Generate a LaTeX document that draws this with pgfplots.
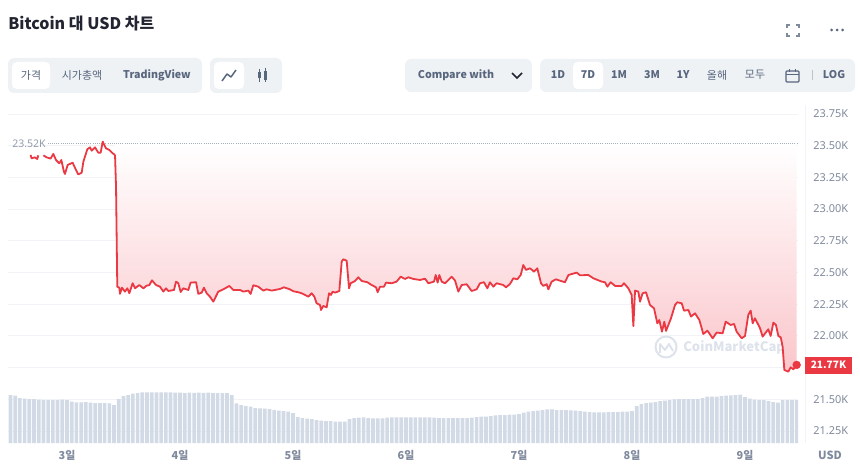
\documentclass[border=0pt]{standalone}
\usepackage{pgfplots}
\usepackage{pgfplotstable}
\usepackage{fontspec}
\pgfplotsset{compat=1.18}
\setmainfont{Noto Sans}
\newfontfamily\kr{Noto Sans CJK KR}
\definecolor{bar}{RGB}{239,242,245}
\definecolor{txt}{RGB}{88,102,126}
\definecolor{ticktxt}{RGB}{128,138,157}
\definecolor{gridc}{RGB}{241,243,247}
\definecolor{redl}{RGB}{234,57,67}
\definecolor{volc}{RGB}{210,218,230}
\definecolor{fillb}{RGB}{250,198,203}
\definecolor{wm}{RGB}{221,226,235}
\definecolor{titlec}{RGB}{34,37,49}
\pgfplotstableread{
d p
2.678 23427
2.687 23400
2.717 23408
2.737 23395
2.746 23424
}\pricefirst
\pgfplotstableread{
d p
2.791 23424
2.820 23408
2.855 23398
2.879 23435
2.903 23387
2.932 23361
2.950 23387
2.973 23295
2.982 23277
3.006 23348
3.050 23366
3.080 23308
3.100 23274
3.130 23287
3.145 23374
3.180 23472
3.204 23487
3.218 23461
3.248 23487
3.277 23445
3.298 23445
3.316 23532
3.345 23479
3.375 23466
3.404 23440
3.425 23427
}\pricesecond
\pgfplotstableread{
d p
3.425 23427
3.434 23177
3.445 22388
3.463 22380
3.469 22331
3.487 22380
3.513 22349
3.534 22375
3.552 22336
3.581 22415
3.602 22375
3.640 22401
3.676 22375
3.705 22396
3.729 22401
3.752 22438
3.788 22401
3.823 22388
3.853 22349
3.876 22375
3.897 22354
3.947 22362
3.965 22428
3.985 22415
4.006 22346
4.029 22375
4.074 22362
4.094 22420
4.142 22423
4.162 22331
4.192 22341
4.212 22380
4.236 22336
4.265 22309
4.295 22270
4.339 22349
4.383 22367
4.437 22394
4.472 22362
4.531 22362
4.560 22349
4.605 22357
4.625 22331
4.649 22399
4.693 22388
4.737 22357
4.767 22367
4.811 22357
4.885 22370
4.920 22383
4.973 22367
5.003 22352
5.047 22344
5.077 22336
5.106 22323
5.136 22309
5.165 22336
5.189 22309
5.209 22257
5.239 22244
5.248 22204
5.268 22236
5.298 22225
5.319 22336
5.336 22323
5.351 22349
5.372 22341
5.410 22354
5.431 22586
5.445 22604
5.475 22593
5.496 22375
5.510 22415
5.549 22433
5.578 22462
5.608 22433
5.658 22423
5.696 22401
5.735 22383
5.749 22344
5.770 22388
5.805 22388
5.823 22420
5.873 22415
5.917 22428
5.953 22467
5.991 22449
6.021 22462
6.065 22449
6.124 22441
6.168 22451
6.198 22415
6.248 22428
6.263 22480
6.280 22420
6.295 22480
6.316 22428
6.345 22415
6.375 22441
6.404 22467
6.434 22436
6.463 22349
6.493 22401
6.537 22407
6.581 22354
6.625 22367
6.655 22415
6.690 22423
6.720 22375
6.743 22423
6.773 22388
6.802 22415
6.861 22401
6.885 22383
6.920 22409
6.950 22454
6.985 22446
7.015 22480
7.038 22559
7.062 22520
7.097 22533
7.133 22507
7.162 22533
7.195 22415
7.215 22394
7.245 22407
7.260 22367
7.289 22428
7.327 22446
7.363 22435
7.407 22423
7.437 22480
7.510 22499
7.540 22478
7.614 22480
7.658 22454
7.732 22428
7.761 22423
7.782 22388
7.811 22423
7.850 22394
7.909 22394
7.929 22415
7.968 22375
7.997 22323
8.012 22078
8.027 22357
8.056 22349
8.071 22270
8.094 22336
8.124 22344
8.159 22244
8.195 22217
8.224 22099
8.242 22125
8.265 22033
8.286 22112
8.301 22039
8.342 22131
8.381 22244
8.401 22265
8.440 22257
8.460 22199
8.499 22204
8.522 22152
8.558 22178
8.596 22125
8.631 22015
8.667 22041
8.714 21981
8.749 22026
8.802 22020
8.829 22112
8.873 22086
8.903 22094
8.926 22033
8.971 21981
9.000 21999
9.029 22165
9.050 22199
9.068 22099
9.088 22139
9.133 22060
9.156 21994
9.206 22052
9.227 21999
9.251 22104
9.274 22086
9.295 21999
9.316 21989
9.333 21915
9.348 21731
9.383 21718
9.404 21752
9.428 21736
9.457 21771
}\pricemain
\pgfplotstableread{
h v
-12 48
-11 47.5
-10 45
-9 44.5
-8 44
-7 44
-6 43.5
-5 43
-4 43
-3 43
-2 43
-1 43.3
0 43
1 41.5
2 40.7
3 40.7
4 41
5 40.5
6 40
7 40
8 40
9 39.7
10 38
11 44
12 47
13 48
14 49.5
15 50
16 50.7
17 50.7
18 50.7
19 50.7
20 50.7
21 50.7
22 50.7
23 50.5
24 50.3
25 50
26 50.3
27 50.2
28 50.4
29 50.2
30 50.4
31 50
32 50
33 50
34 50
35 48
36 39.7
37 38
38 37
39 36.5
40 35
41 34.7
42 34.5
43 34
44 33
45 32.5
46 32
47 31.5
48 30
49 26
50 25
51 24.5
52 24
53 23
54 22.5
55 22
56 22
57 21.5
58 21.3
59 21.3
60 24
61 25
62 25.5
63 25.7
64 25
65 24.7
66 24.7
67 24.7
68 25.5
69 25.7
70 25.7
71 25.7
72 25.7
73 25.7
74 25.7
75 25.7
76 25.7
77 25.7
78 25.3
79 25
80 25
81 25
82 25
83 25
84 25
85 25
86 25.5
87 26
88 26.3
89 26.5
90 27
91 27.7
92 27.8
93 28
94 28.3
95 28.3
96 29
97 30.5
98 31.5
99 32
100 32.3
101 33
102 33.7
103 33.7
104 33
105 33
106 32.8
107 32.7
108 32.5
109 32
110 31.5
111 31
112 30.7
113 30.7
114 30.7
115 31
116 31
117 31
118 31.3
119 31.5
120 32
121 37
122 39
123 40
124 40.5
125 41
126 42
127 42.5
128 43
129 43.7
130 44
131 44
132 44
133 44
134 44
135 45
136 46.3
137 46.3
138 46.5
139 47
140 47.5
141 47.7
142 48
143 48.3
144 46
145 44.5
146 43.5
147 43
148 43
149 42
150 41
151 40.5
152 43
153 43
154 43
155 43
}\volumedata
\begin{document}
\begin{tikzpicture}
\path[use as bounding box] (0,0) rectangle (645pt,-350.25pt);
% faint separator of the price scale
\begin{scope}[x=0.75pt,y=-0.75pt]
\draw[gridc,line width=0.6pt] (805,105) -- (805,443);
\end{scope}
% price axis: grid, scale, area
\begin{axis}[
  at={(6pt,-332.25pt)},anchor=south west,
  scale only axis,width=592.5pt,height=246.75pt,
  xmin=2.478,xmax=9.469,
  ymin=21155,ymax=23750,
  axis line style={draw=none},
  major tick length=0pt,
  scaled y ticks=false,
  xtick={3,4,5,6,7,8,9},
  xticklabels={3일,4일,5일,6일,7일,8일,9일},
  xticklabel style={font=\kr\bfseries\fontsize{8.2pt}{9pt}\selectfont,text=ticktxt,yshift=-2.2pt},
  ytick={21250,21500,21750,22000,22250,22500,22750,23000,23250,23500,23750},
  yticklabels={21.25K,21.50K,{},22.00K,22.25K,22.50K,22.75K,23.00K,23.25K,23.50K,23.75K},
  yticklabel pos=right,
  yticklabel style={font=\fontsize{8.2pt}{9pt}\selectfont,text=ticktxt,xshift=8pt},
  ymajorgrids,grid style={gridc,line width=0.6pt},
  clip=false
]
\addplot[draw=none,top color=white,bottom color=fillb] table[x=d,y=p] {\pricemain} -- (axis cs:9.457,23520) -- (axis cs:3.425,23520) -- cycle;
\addplot[densely dotted,color=ticktxt!70,line width=0.6pt] coordinates {(2.83,23520)(9.469,23520)};
\end{axis}
\begin{scope}[x=0.75pt,y=-0.75pt]
% watermark
\draw[wm,line width=1.5pt] (666,347) circle (10.5);
\draw[wm,line width=1.4pt,line join=round] (660,353) -- (660,344) -- (665,350) -- (669,344) -- (673,351);
\node[anchor=west,text=wm,inner sep=0pt,font=\kr\bfseries\fontsize{9.8pt}{12pt}\selectfont] at (683,347) {CoinMarketCap};
\end{scope}
% volume axis
\begin{axis}[
  at={(6pt,-332.25pt)},anchor=south west,
  scale only axis,width=592.5pt,height=246.75pt,
  xmin=-12.53,xmax=155.26,ymin=0,ymax=329,
  hide axis,ybar,bar width=2.75pt
]
\addplot[fill=volc,draw=none] table[x=h,y=v] {\volumedata};
\end{axis}
% price line
\begin{axis}[
  at={(6pt,-332.25pt)},anchor=south west,
  scale only axis,width=592.5pt,height=246.75pt,
  xmin=2.478,xmax=9.469,
  ymin=21155,ymax=23750,
  hide axis,clip=false
]
\addplot[redl,line width=1.35pt,line join=round] table[x=d,y=p] {\pricefirst};
\addplot[redl,line width=1.35pt,line join=round] table[x=d,y=p] {\pricesecond};
\addplot[redl,line width=1.35pt,line join=round] table[x=d,y=p] {\pricemain};
\addplot[only marks,mark=*,mark size=2.9pt,mark options={fill=redl,draw=redl}] coordinates {(9.457,21771)};
\end{axis}
\begin{scope}[x=0.75pt,y=-0.75pt]
% title
\node[anchor=west,text=titlec,font=\kr\bfseries\fontsize{12pt}{14pt}\selectfont,inner sep=0pt] at (8,24) {Bitcoin 대 USD 차트};
% top-right icons
\begin{scope}[ticktxt,line width=0.9pt]
\draw (787,28) -- (787,25) -- (790,25);
\draw (796,25) -- (799,25) -- (799,28);
\draw (787,33) -- (787,36) -- (790,36);
\draw (796,36) -- (799,36) -- (799,33);
\end{scope}
\fill[txt] (831.5,30) circle (1.5) (837,30) circle (1.5) (842.5,30) circle (1.5);
% toolbar groups
\fill[bar,rounded corners=4.5pt] (8,58) rectangle (202,93);
\fill[white,rounded corners=3.5pt] (12,62) rectangle (50,89);
\fill[bar,rounded corners=4.5pt] (210,58) rectangle (282,93);
\fill[white,rounded corners=3.5pt] (214,62) rectangle (244,89);
\fill[bar,rounded corners=4.5pt] (405,59) rectangle (532,92);
\fill[bar,rounded corners=4.5pt] (540,59) rectangle (855,92);
\fill[white,rounded corners=3.5pt] (573,62) rectangle (603,89);
\tikzset{tb/.style={text=txt,inner sep=0pt,font=\kr\fontsize{8.2pt}{9pt}\selectfont},
 tbb/.style={text=txt,inner sep=0pt,font=\kr\bfseries\fontsize{8pt}{9pt}\selectfont}}
\node[tb] at (31,75) {가격};
\node[tb] at (82,75) {시가총액};
\node[tbb] at (157,75) {TradingView};
\node[tbb] at (456,75) {Compare with};
\node[tbb] at (558,75) {1D};
\node[tbb] at (588,75) {7D};
\node[tbb] at (619,75) {1M};
\node[tbb] at (652,75) {3M};
\node[tbb] at (683,75) {1Y};
\node[tb] at (717,75) {올해};
\node[tb] at (755,75) {모두};
\node[tbb] at (834,75) {LOG};
\draw[gridc!80!black,line width=0.5pt] (812,70) -- (812,80);
% chevron
\draw[titlec,line width=1.1pt] (512,73) -- (517,78) -- (522,73);
% calendar
\draw[txt,line width=0.9pt,rounded corners=0.8pt] (786,71) rectangle (799,82);
\draw[txt,line width=0.9pt] (786,74.5) -- (799,74.5) (789.5,69) -- (789.5,72) (795.5,69) -- (795.5,72);
% line icon
\draw[txt,line width=1.1pt,line join=round] (222,81) -- (227,74) -- (231,77) -- (236,70);
% candle icon
\draw[txt,line width=0.7pt] (259.5,69) -- (259.5,82) (265.5,68) -- (265.5,82);
\fill[txt] (258,72) rectangle (261,78);
\fill[txt] (264,71) rectangle (267,80);
% reference label for the high
\node[text=ticktxt!85,inner sep=0pt,font=\fontsize{7.9pt}{9pt}\selectfont] at (29,143.5) {23.52K};
% last-price tag
\fill[redl] (805,357) rectangle (852,374);
\node[text=white,inner sep=0pt,font=\kr\bfseries\fontsize{7.6pt}{9pt}\selectfont] at (828.5,365) {21.77K};
% USD
\node[text=ticktxt,inner sep=0pt,font=\kr\bfseries\fontsize{8.4pt}{9pt}\selectfont] at (830,455) {USD};
\end{scope}
\end{tikzpicture}
\end{document}
